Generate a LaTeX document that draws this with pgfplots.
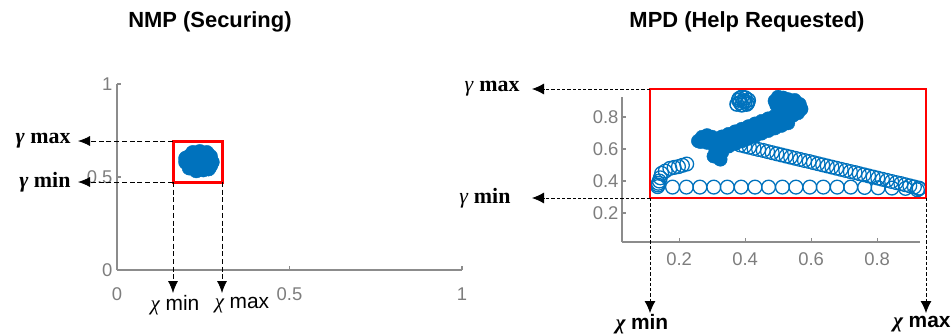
\documentclass[border=0pt]{standalone}
\usepackage{fontspec}
\setmainfont{Liberation Serif}
\setsansfont{Liberation Sans}
\usepackage{pgfplots}
\pgfplotsset{compat=1.18}
\usetikzlibrary{arrows.meta}
\definecolor{mblue}{RGB}{0,114,189}
\definecolor{agray}{RGB}{140,140,140}
\definecolor{tgray}{RGB}{125,125,125}
\begin{document}
\begin{tikzpicture}[x=1bp,y=1bp]
\useasboundingbox (0,0) rectangle (952,335);
\pgfplotsset{myax/.style={scale only axis, axis x line*=bottom, axis y line*=left,
  axis line style={agray, line width=1.8bp, -},
  every outer x axis line/.append style={-}, every outer y axis line/.append style={-},
  tick style={agray, line width=1.2bp}, major tick length=4bp, tick align=inside,
  tick label style={font=\sffamily\fontsize{18.5}{18.5}\selectfont, text=tgray},
  /pgf/number format/assume math mode=true, clip=false}}
% Left: NMP (Securing)
\begin{axis}[myax, at={(117bp,65bp)}, anchor=south west, width=345bp, height=186bp,
  xmin=0, xmax=1, ymin=0, ymax=1, xtick={0,0.5,1}, ytick={0,0.5,1},
  xticklabel style={yshift=-14bp}, yticklabel style={xshift=-1bp}]
\addplot[only marks, mark=*, mark size=7.5bp, mark options={draw=mblue, fill=mblue}] coordinates {
(0.20,0.58) (0.21,0.61) (0.22,0.63) (0.24,0.635) (0.26,0.63) (0.27,0.61) (0.275,0.58)
(0.27,0.56) (0.25,0.54) (0.23,0.535) (0.21,0.55) (0.24,0.59) (0.225,0.57) (0.255,0.60) (0.245,0.56)
(0.20,0.60) (0.265,0.545)};
\end{axis}
% Right: MPD (Help Requested)
\begin{axis}[myax, at={(622bp,93bp)}, anchor=south west, width=298bp, height=145bp,
  xmin=0.027, xmax=0.93, ymin=0.019, ymax=0.925, xtick={0.2,0.4,0.6,0.8}, ytick={0.2,0.4,0.6,0.8},
  axis line style={line width=1.5bp},
  xticklabel style={yshift=-7bp}]
% bottom row
\addplot[only marks, mark=o, mark size=6.9bp, mark options={draw=mblue, line width=1.3bp}] coordinates {
(0.18,0.362) (0.222,0.362) (0.263,0.362) (0.305,0.362) (0.346,0.362) (0.388,0.362) (0.43,0.362)
(0.471,0.362) (0.513,0.362) (0.554,0.362) (0.596,0.362) (0.637,0.362) (0.679,0.362) (0.72,0.362)
(0.762,0.36) (0.803,0.358) (0.845,0.356) (0.886,0.354) (0.927,0.352) (0.922,0.345)};
% left arc
\addplot[only marks, mark=o, mark size=6.9bp, mark options={draw=mblue, line width=1.3bp}] coordinates {
(0.135,0.365) (0.136,0.375) (0.137,0.386) (0.14,0.40) (0.143,0.42) (0.147,0.448) (0.158,0.462)
(0.172,0.479) (0.185,0.485) (0.198,0.49) (0.21,0.498) (0.223,0.506)};
% diagonal
\addplot[only marks, mark=o, mark size=6.9bp, mark options={draw=mblue, line width=1.2bp}] coordinates {
(0.385,0.625) (0.399,0.618) (0.413,0.611) (0.427,0.604) (0.441,0.597) (0.455,0.591) (0.468,0.584)
(0.482,0.577) (0.496,0.570) (0.510,0.563) (0.524,0.556) (0.538,0.549) (0.552,0.542) (0.566,0.535)
(0.580,0.528) (0.594,0.522) (0.607,0.515) (0.621,0.508) (0.635,0.501) (0.649,0.494) (0.663,0.487)
(0.677,0.480) (0.691,0.473) (0.705,0.466) (0.719,0.459) (0.733,0.453) (0.746,0.446) (0.760,0.439)
(0.774,0.432) (0.788,0.425) (0.802,0.418) (0.816,0.411) (0.830,0.404) (0.844,0.397) (0.858,0.390)
(0.872,0.384) (0.885,0.377) (0.899,0.370) (0.913,0.363) (0.927,0.356)};
% top small cluster
\addplot[only marks, mark=o, mark size=6.9bp, mark options={draw=mblue, line width=1.5bp}] coordinates {
(0.375,0.88) (0.38,0.905) (0.39,0.925) (0.40,0.92) (0.41,0.905) (0.405,0.88) (0.39,0.875)
(0.395,0.90) (0.385,0.89) (0.40,0.895) (0.382,0.915) (0.408,0.89)};
% bone (dense)
\addplot[only marks, mark=*, mark size=6.9bp, mark options={draw=mblue, fill=mblue}] coordinates {
(0.258,0.65) (0.27,0.675) (0.285,0.685) (0.30,0.675) (0.265,0.645) (0.285,0.64) (0.305,0.635)
(0.31,0.60) (0.315,0.57) (0.32,0.545) (0.325,0.535) (0.305,0.555) (0.33,0.58)
(0.34,0.655) (0.36,0.671) (0.38,0.687) (0.40,0.703) (0.42,0.719) (0.44,0.736) (0.46,0.752)
(0.48,0.768) (0.50,0.784) (0.52,0.800)
(0.33,0.677) (0.35,0.693) (0.37,0.709) (0.39,0.725) (0.41,0.741) (0.43,0.758) (0.45,0.774)
(0.47,0.790) (0.49,0.806) (0.51,0.822)
(0.35,0.617) (0.37,0.633) (0.39,0.649) (0.41,0.665) (0.43,0.681) (0.45,0.698) (0.47,0.714)
(0.49,0.730) (0.51,0.746) (0.53,0.762)
(0.49,0.90) (0.50,0.925) (0.515,0.92) (0.53,0.91) (0.55,0.905) (0.565,0.88) (0.57,0.85)
(0.56,0.825) (0.545,0.81) (0.52,0.84) (0.54,0.86) (0.51,0.87) (0.495,0.875)};
\end{axis}
% titles
\node[font=\sffamily\bfseries\fontsize{22}{22}\selectfont] at (210,313) {NMP (Securing)};
\node[font=\sffamily\bfseries\fontsize{22}{22}\selectfont] at (747,313) {MPD (Help Requested)};
% left annotations
\draw[red, line width=3bp] (173,194) rectangle (222,153);
\begin{scope}[black, line width=0.8bp, dash pattern=on 5bp off 2.7bp, -{Latex[length=12bp,width=10bp]}]
\draw (173,194) -- (78,194);
\draw (173,153) -- (78,153);
\draw (173,153) -- (173,42);
\draw (222,153) -- (222,42);
\end{scope}
\node[anchor=east, font=\fontsize{22}{22}\selectfont\bfseries] at (74,194) {\textit{γ} max};
\node[anchor=east, font=\fontsize{22}{22}\selectfont\bfseries] at (74,153) {\textit{γ} min};
\node[font=\fontsize{21}{21}\selectfont] at (175,30) {\textit{χ} \textsf{min}};
\node[font=\fontsize{21}{21}\selectfont] at (242,30) {\textit{χ} \textsf{max}};
% right annotations
\draw[red, line width=2.5bp] (650,246) rectangle (926,137);
\begin{scope}[black, line width=0.8bp, dash pattern=on 3.3bp off 2bp, -{Latex[length=12bp,width=11bp]}]
\draw (650,246) -- (532,246);
\draw (650,137) -- (532,137);
\draw (650,137) -- (650,22);
\draw (926,137) -- (926,22);
\end{scope}
\node[anchor=east, font=\fontsize{22}{22}\selectfont] at (523,246) {\textit{γ} \textbf{max}};
\node[anchor=east, font=\fontsize{22}{22}\selectfont] at (514,137) {\textit{γ} \textbf{min}};
\node[font=\fontsize{21}{21}\selectfont\bfseries] at (642,11) {\textit{χ} \textsf{min}};
\node[font=\fontsize{21}{21}\selectfont\bfseries] at (922,11) {\textit{χ} \textsf{max}};
\end{tikzpicture}
\end{document}
